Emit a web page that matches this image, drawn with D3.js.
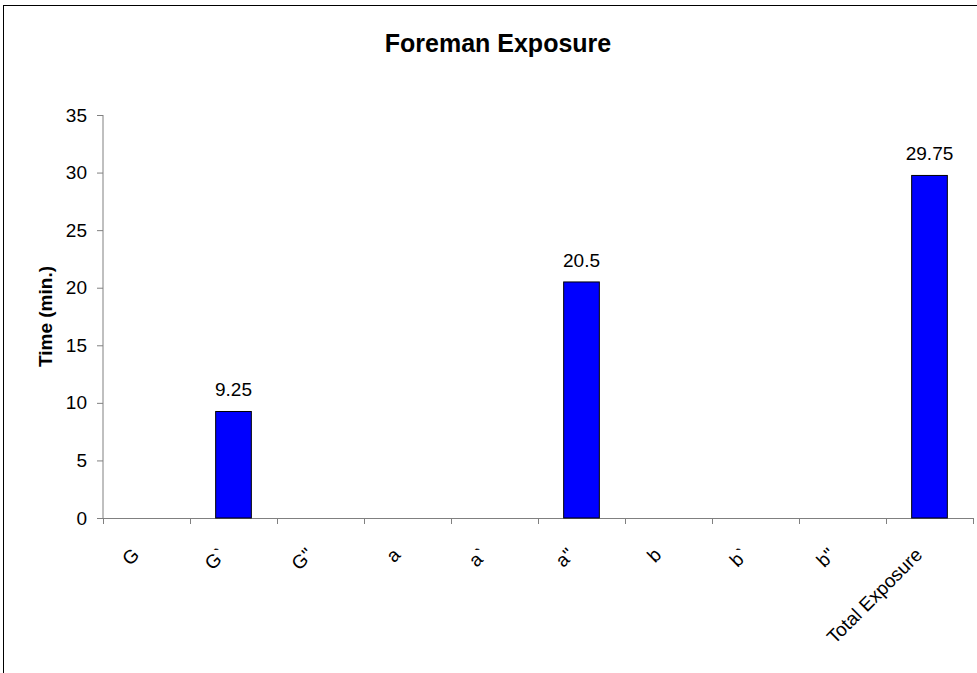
<!DOCTYPE html>
<head>
  <meta charset="utf-8">
  <script src="https://d3js.org/d3.v7.min.js"></script>
  <style>
    body { margin:0; background:#fff; }
    text { font-family: Arial, 'Liberation Sans', sans-serif; fill: #000; }
    .axis path, .axis line { stroke: #808080; }
    .tick text { font-size: 19px; }
    .bar { fill: #0000ff; stroke: #000; stroke-width: 1; }
    .val { font-size: 19px; }
  </style>
</head>
<body>
  <script>
    var categories = ["G", "G`", "G\"", "a", "a`", "a\"", "b", "b`", "b\"", "Total Exposure"];
    var values = [0, 9.25, 0, 0, 0, 20.5, 0, 0, 0, 29.75];
    var yTicks = [0, 5, 10, 15, 20, 25, 30, 35];

    var W = 977, H = 673;
    var margin = {top: 115, left: 103};
    var width = 870, height = 403;

    var svg = d3.select("body").append("svg")
      .attr("width", W)
      .attr("height", H);

    // outer frame
    svg.append("rect")
      .attr("x", 3.5).attr("y", 5.5)
      .attr("width", W + 10).attr("height", H + 10)
      .attr("fill", "none").attr("stroke", "#000").attr("stroke-width", 1);

    svg.append("text")
      .attr("x", 498).attr("y", 52)
      .attr("text-anchor", "middle")
      .style("font-size", "25px").style("font-weight", "bold")
      .text("Foreman Exposure");

    var g = svg.append("g")
      .attr("transform", "translate(" + margin.left + "," + margin.top + ")");

    var x = d3.scaleBand().domain(categories).range([0, width]);
    var y = d3.scaleLinear().domain([0, 35]).range([height, 0]);

    var yAxis = g.append("g").attr("class", "axis")
      .call(d3.axisLeft(y).tickValues(yTicks).tickSize(6).tickPadding(10).tickSizeOuter(0));
    yAxis.select(".domain").attr("d", "M0," + height + "V0");

    // x axis line with ticks at band edges
    var xg = g.append("g").attr("class", "axis");
    xg.append("line")
      .attr("x1", 0).attr("x2", width)
      .attr("y1", height + 0.5).attr("y2", height + 0.5);
    xg.selectAll("line.edge")
      .data(d3.range(categories.length + 1))
      .enter().append("line")
        .attr("class", "edge")
        .attr("x1", d => Math.round(d * x.step()) + 0.5)
        .attr("x2", d => Math.round(d * x.step()) + 0.5)
        .attr("y1", height).attr("y2", height + 6);

    xg.selectAll("text")
      .data(categories)
      .enter().append("text")
        .attr("text-anchor", "end")
        .style("font-size", "19px")
        .attr("transform", d => "translate(" + (x(d) + x.bandwidth() / 2 - 6) + "," + (height + 38) + ") rotate(-45)")
        .text(d => d);

    svg.append("text")
      .attr("transform", "translate(52," + (margin.top + height / 2) + ") rotate(-90)")
      .attr("text-anchor", "middle")
      .style("font-size", "19px").style("font-weight", "bold")
      .text("Time (min.)");

    var bw = x.bandwidth() * 0.41;
    var data = categories.map((c, i) => ({cat: c, v: values[i]}));

    g.selectAll("rect.bar")
      .data(data.filter(d => d.v > 0))
      .enter().append("rect")
        .attr("class", "bar")
        .attr("x", d => x(d.cat) + (x.bandwidth() - bw) / 2)
        .attr("y", d => y(d.v))
        .attr("width", bw)
        .attr("height", d => height - y(d.v));

    g.selectAll("text.val")
      .data(data.filter(d => d.v > 0))
      .enter().append("text")
        .attr("class", "val")
        .attr("text-anchor", "middle")
        .attr("x", d => x(d.cat) + x.bandwidth() / 2)
        .attr("y", d => y(d.v) - 15)
        .text(d => d.v);
  </script>
</body>
